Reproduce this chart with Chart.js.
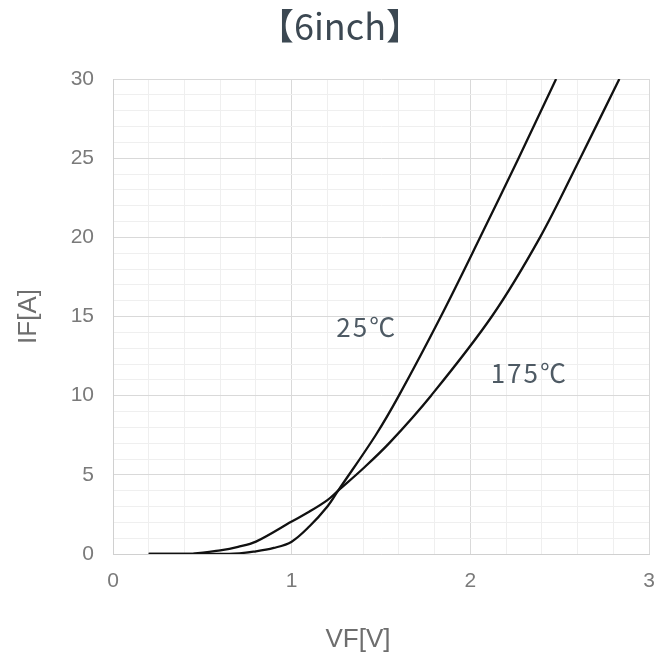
<!DOCTYPE html>
<html>
<head>
<meta charset="utf-8">
<script src="https://cdn.jsdelivr.net/npm/chart.js@4/dist/chart.umd.min.js"></script>
<style>
  html, body { margin: 0; padding: 0; background: #fff; }
  canvas { display: block; }
</style>
</head>
<body>
<canvas id="chart" width="659" height="662"></canvas>
<script>
// VF-IF curves
const vf25  = [0.2, 0.65, 0.8,  0.9,  1.0,  1.1,  1.2, 1.26, 1.47, 1.6, 1.835, 2.055, 2.27, 2.48];
const if25  = [0,   0,    0.17, 0.38, 0.78, 1.75, 3.0, 4.0,  7.5,  10,  15,    20,    25,   30];
const vf175 = [0.2, 0.45, 0.6,  0.7,  0.8,  1.0,  1.1,  1.2, 1.26, 1.4, 1.55, 1.78, 2.12, 2.39, 2.615, 2.834];
const if175 = [0,   0.02, 0.23, 0.45, 0.78, 2.05, 2.68, 3.4, 4.0,  5.4, 7.05, 10,   15,   20,   25,    30];

const xTicks = [0, 1, 2, 3];
const yTicks = [0, 5, 10, 15, 20, 25, 30];

const seriesLabels = ['25℃', '175℃'];
// where the curve names sit, in data units
const labelX = [1.42, 2.33];
const labelY = [14.35, 11.45];

const titleText = '【6inch】';
const xTitle = 'VF[V]';
const yTitle = 'IF[A]';

function toPoints(xs, ys) {
    return xs.map((x, i) => ({ x: x, y: ys[i] }));
}

function isOn(v, list) {
    return list.some(t => Math.abs(t - v) < 1e-6);
}

const textPlugin = {
    id: 'texts',
    afterDraw(chart) {
        const ctx = chart.ctx;
        const area = chart.chartArea;
        const xs = chart.scales.x;
        const ys = chart.scales.y;
        ctx.save();
        ctx.textAlign = 'center';
        ctx.textBaseline = 'middle';

        ctx.fillStyle = '#3c4852';
        ctx.font = '36px "Noto Sans CJK JP", "Noto Sans", sans-serif';
        ctx.fillText(titleText, 340, 26);

        ctx.fillStyle = '#6e6e6e';
        ctx.font = '26px "Liberation Sans", Arial, sans-serif';
        ctx.fillText(xTitle, area.left + 245, area.bottom + 86);

        ctx.save();
        ctx.translate(29, (area.top + area.bottom) / 2);
        ctx.rotate(-Math.PI / 2);
        ctx.fillText(yTitle, 0, 0);
        ctx.restore();

        ctx.fillStyle = '#4e5a64';
        ctx.font = '26px "Noto Sans CJK JP", "Noto Sans", sans-serif';
        ctx.letterSpacing = '2px';
        seriesLabels.forEach((s, i) => {
            ctx.fillText(s, xs.getPixelForValue(labelX[i]), ys.getPixelForValue(labelY[i]));
        });
        ctx.restore();
    }
};

const ctx = document.getElementById('chart').getContext('2d');
const chart = new Chart(ctx, {
    type: 'line',
    data: {
        datasets: [
            {
                label: seriesLabels[0],
                data: toPoints(vf25, if25),
                borderColor: '#111',
                borderWidth: 2.3,
                pointRadius: 0,
                tension: 0.35,
                fill: false
            },
            {
                label: seriesLabels[1],
                data: toPoints(vf175, if175),
                borderColor: '#111',
                borderWidth: 2.3,
                pointRadius: 0,
                tension: 0.35,
                fill: false
            }
        ]
    },
    options: {
        responsive: false,
        animation: false,
        layout: { padding: { top: 79, right: 10, left: 0, bottom: 0 } },
        plugins: {
            legend: { display: false },
            tooltip: { enabled: false },
            title: { display: false }
        },
        scales: {
            x: {
                type: 'linear',
                min: 0,
                max: 3,
                afterFit: s => { s.height = 108; s.paddingLeft = 0; s.paddingRight = 0; },
                border: { color: '#d0d0d0', width: 1 },
                grid: {
                    drawTicks: false,
                    color: c => isOn(c.tick.value, xTicks) ? '#d9d9d9' : '#efefef',
                    lineWidth: 1
                },
                ticks: {
                    stepSize: 0.2,
                    padding: 15,
                    color: '#7a7a7a',
                    font: { family: '"Liberation Sans", Arial, sans-serif', size: 21 },
                    maxRotation: 0,
                    autoSkip: false,
                    callback: v => isOn(v, xTicks) ? String(Math.round(v)) : ''
                }
            },
            y: {
                type: 'linear',
                min: 0,
                max: 30,
                afterFit: s => { s.width = 113; s.paddingTop = 0; s.paddingBottom = 0; },
                border: { color: '#d0d0d0', width: 1 },
                grid: {
                    drawTicks: false,
                    color: c => isOn(c.tick.value, yTicks) ? '#d9d9d9' : '#efefef',
                    lineWidth: 1
                },
                ticks: {
                    stepSize: 1,
                    padding: 19,
                    color: '#7a7a7a',
                    font: { family: '"Liberation Sans", Arial, sans-serif', size: 21 },
                    autoSkip: false,
                    callback: v => isOn(v, yTicks) ? String(Math.round(v)) : ''
                }
            }
        }
    },
    plugins: [textPlugin]
});
</script>
</body>
</html>
